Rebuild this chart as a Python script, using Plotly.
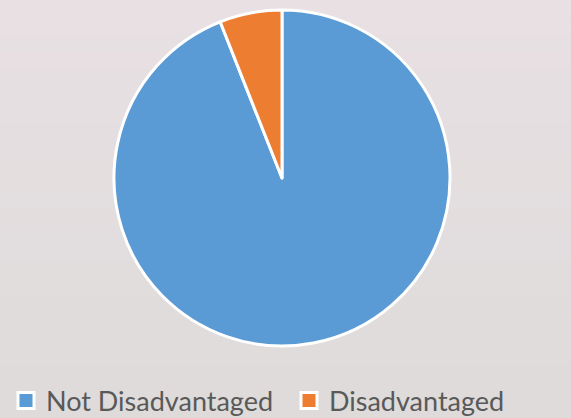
import plotly.graph_objects as go

labels = ["Not Disadvantaged", "Disadvantaged"]
values = [94, 6]
colors = ["#5b9bd5", "#ed7d31"]

W, H = 571, 418
fig = go.Figure()
fig.add_trace(go.Pie(
    labels=labels, values=values, sort=False, direction="clockwise", rotation=0,
    marker=dict(colors=colors, line=dict(color="white", width=3)),
    textinfo="none", hoverinfo="label+percent", showlegend=False,
    domain=dict(x=[114/W, 450/W], y=[1-346/H, 1-10/H]),
))
# legend entries with larger square swatches
for lab, col in zip(labels, colors):
    fig.add_trace(go.Scatter(
        x=[None], y=[None], mode="markers", name=lab,
        marker=dict(symbol="square", size=17, color=col, line=dict(color="white", width=3)),
    ))

# soft vertical background gradient
top = (232, 224, 227)
bot = (222, 219, 218)
n = 24
shapes = []
for i in range(n):
    t = i / (n - 1)
    c = tuple(round(top[k] + (bot[k] - top[k]) * t) for k in range(3))
    shapes.append(dict(type="rect", xref="paper", yref="paper", x0=0, x1=1,
                       y0=1 - (i + 1) / n, y1=1 - i / n, line=dict(width=0),
                       fillcolor="rgb(%d,%d,%d)" % c, layer="below"))

fig.update_layout(
    width=W, height=H,
    margin=dict(l=0, r=0, t=0, b=0, autoexpand=False),
    paper_bgcolor="#e4dfe0", plot_bgcolor="rgba(0,0,0,0)",
    shapes=shapes,
    xaxis=dict(visible=False), yaxis=dict(visible=False),
    showlegend=True,
    legend=dict(orientation="h", x=6/W, xanchor="left", y=1-401/H, yanchor="middle",
                font=dict(family="Lato", size=27, color="#595959"),
                entrywidth=238, bgcolor="rgba(0,0,0,0)", borderwidth=0),
)
fig.write_html("out.html", config={"displayModeBar": False},
               post_script="document.body.style.margin='0';")
